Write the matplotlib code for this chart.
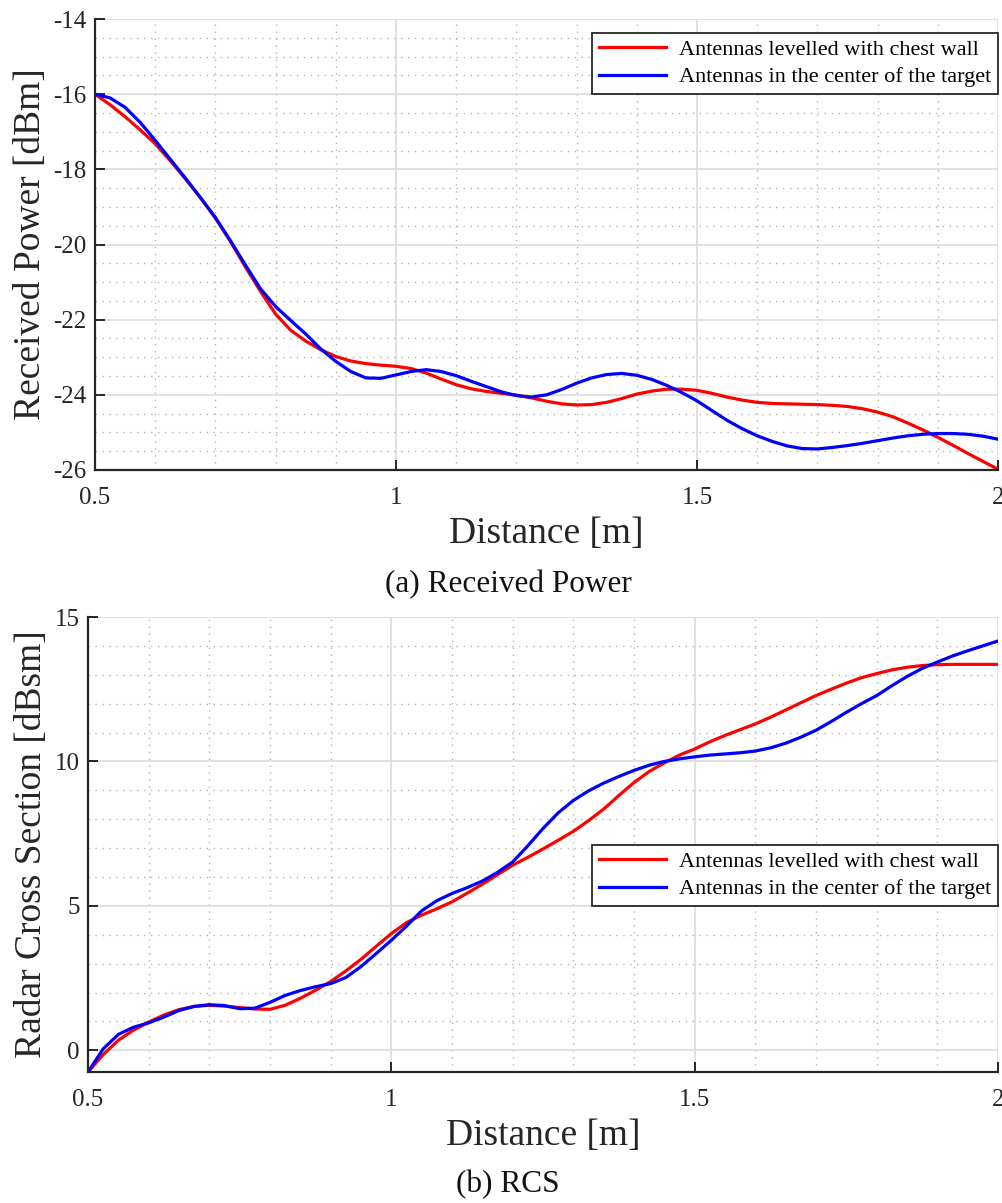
import numpy as np
import matplotlib
matplotlib.use("Agg")
import matplotlib.pyplot as plt
from matplotlib.ticker import MultipleLocator

# ---------------- data ----------------
distance = [0.500, 0.525, 0.550, 0.575, 0.600, 0.625, 0.650, 0.675, 0.700, 0.725,
            0.750, 0.775, 0.800, 0.825, 0.850, 0.875, 0.900, 0.925, 0.950, 0.975,
            1.000, 1.025, 1.050, 1.075, 1.100, 1.125, 1.150, 1.175, 1.200, 1.225,
            1.250, 1.275, 1.300, 1.325, 1.350, 1.375, 1.400, 1.425, 1.450, 1.475,
            1.500, 1.525, 1.550, 1.575, 1.600, 1.625, 1.650, 1.675, 1.700, 1.725,
            1.750, 1.775, 1.800, 1.825, 1.850, 1.875, 1.900, 1.925, 1.950, 1.975,
            2.000]

power_chest = [-16.00, -16.28, -16.60, -16.95, -17.32, -17.77, -18.25, -18.75, -19.30, -19.92,
               -20.60, -21.25, -21.85, -22.28, -22.57, -22.80, -22.98, -23.10, -23.17, -23.21,
               -23.24, -23.30, -23.42, -23.58, -23.73, -23.84, -23.91, -23.96, -24.01, -24.08,
               -24.17, -24.24, -24.27, -24.26, -24.20, -24.10, -23.98, -23.90, -23.85, -23.85,
               -23.88, -23.96, -24.06, -24.14, -24.20, -24.23, -24.24, -24.25, -24.26, -24.28,
               -24.31, -24.37, -24.46, -24.58, -24.75, -24.93, -25.13, -25.34, -25.56, -25.77,
               -25.98]

power_center = [-16.00, -16.10, -16.35, -16.75, -17.23, -17.73, -18.23, -18.75, -19.28, -19.90,
                -20.55, -21.18, -21.65, -22.02, -22.38, -22.78, -23.11, -23.38, -23.55, -23.56,
                -23.47, -23.38, -23.33, -23.38, -23.49, -23.64, -23.78, -23.92, -24.02, -24.06,
                -24.00, -23.86, -23.69, -23.55, -23.46, -23.43, -23.48, -23.59, -23.75, -23.94,
                -24.16, -24.42, -24.68, -24.90, -25.09, -25.24, -25.36, -25.43, -25.44, -25.40,
                -25.35, -25.29, -25.22, -25.15, -25.09, -25.05, -25.03, -25.03, -25.05, -25.10,
                -25.18]

rcs_chest = [-0.75, -0.15, 0.35, 0.70, 0.98, 1.22, 1.41, 1.52, 1.56, 1.53,
             1.48, 1.43, 1.42, 1.56, 1.80, 2.08, 2.38, 2.75, 3.15, 3.60,
             4.04, 4.42, 4.68, 4.90, 5.14, 5.44, 5.75, 6.08, 6.41, 6.68,
             6.97, 7.27, 7.58, 7.95, 8.35, 8.82, 9.27, 9.65, 9.95, 10.22,
             10.43, 10.68, 10.90, 11.10, 11.30, 11.53, 11.78, 12.03, 12.28, 12.50,
             12.71, 12.90, 13.04, 13.17, 13.26, 13.32, 13.35, 13.36, 13.36, 13.36,
             13.36]

rcs_center = [-0.75, 0.05, 0.55, 0.80, 0.95, 1.15, 1.38, 1.52, 1.58, 1.55,
              1.44, 1.46, 1.66, 1.90, 2.07, 2.20, 2.31, 2.52, 2.90, 3.35,
              3.81, 4.30, 4.83, 5.18, 5.43, 5.63, 5.86, 6.16, 6.52, 7.08,
              7.68, 8.22, 8.65, 8.98, 9.25, 9.48, 9.69, 9.87, 10.00, 10.09,
              10.16, 10.22, 10.26, 10.30, 10.36, 10.47, 10.63, 10.84, 11.08, 11.38,
              11.70, 12.00, 12.28, 12.62, 12.94, 13.22, 13.44, 13.65, 13.83, 14.00,
              14.17]

series_labels = ["Antennas levelled with chest wall", "Antennas in the center of the target"]
x_ticks = [0.5, 1, 1.5, 2]
x_ticklabels = ["0.5", "1", "1.5", "2"]
power_ticks = [-26, -24, -22, -20, -18, -16, -14]
rcs_ticks = [0, 5, 10, 15]
captions = ["(a) Received Power", "(b) RCS"]

# ---------------- style ----------------
plt.rcParams['font.family'] = ['Liberation Serif', 'DejaVu Serif']
AX_COLOR = '#262626'

fig = plt.figure(figsize=(10.03, 12.03), dpi=100)


def style_axes(ax, ylim, yticks, yminor):
    ax.set_xlim(0.5, 2.0)
    ax.set_ylim(*ylim)
    ax.set_xticks(x_ticks)
    ax.set_xticklabels(x_ticklabels)
    ax.set_yticks(yticks)
    ax.set_yticklabels([str(t) for t in yticks])
    ax.xaxis.set_minor_locator(MultipleLocator(0.1))
    ax.yaxis.set_minor_locator(MultipleLocator(yminor))
    for s in ['top', 'right']:
        ax.spines[s].set_visible(False)
    for s in ['left', 'bottom']:
        ax.spines[s].set_color(AX_COLOR)
        ax.spines[s].set_linewidth(1.6)
    ax.tick_params(which='major', direction='in', length=7, width=1.4,
                   color=AX_COLOR, labelcolor=AX_COLOR, labelsize=18)
    ax.tick_params(axis='x', which='major', pad=12)
    ax.tick_params(axis='y', which='major', pad=6)
    ax.tick_params(which='minor', length=0)
    ax.grid(which='major', color='#dcdcdc', linewidth=1.2, linestyle='-')
    ax.grid(which='minor', color='#b4b4b4', linewidth=1.0, linestyle=(0, (1, 4)))
    ax.set_axisbelow(True)


def add_legend(ax, anchor_y):
    leg = ax.legend(loc='upper right', bbox_to_anchor=(1.0, anchor_y), fontsize=16,
                    frameon=True, fancybox=False, framealpha=1, edgecolor='#262626',
                    handlelength=3.0, borderpad=0.3, labelspacing=0.3,
                    handletextpad=0.6, borderaxespad=0)
    leg.get_frame().set_linewidth(1.3)
    return leg


# top panel
ax1 = fig.add_axes([95 / 1003, 1 - 470 / 1203, 903 / 1003, 451 / 1203])
ax1.plot(distance, power_chest, color='#ff0000', lw=2.3, label=series_labels[0])
ax1.plot(distance, power_center, color='#0000ff', lw=2.3, label=series_labels[1])
style_axes(ax1, (-26, -14), power_ticks, 0.5)
ax1.set_xlabel('Distance [m]', fontsize=27, color=AX_COLOR, labelpad=6)
ax1.set_ylabel('Received Power [dBm]', fontsize=27, color=AX_COLOR, labelpad=4)
add_legend(ax1, 1 - (33 - 19) / 451)

# bottom panel
ax2 = fig.add_axes([88 / 1003, 1 - 1072 / 1203, 910 / 1003, 455 / 1203])
ax2.plot(distance, rcs_chest, color='#ff0000', lw=2.3, label=series_labels[0])
ax2.plot(distance, rcs_center, color='#0000ff', lw=2.3, label=series_labels[1])
style_axes(ax2, (-0.75, 15), rcs_ticks, 1)
ax2.set_xlabel('Distance [m]', fontsize=27, color=AX_COLOR, labelpad=6)
ax2.set_ylabel('Radar Cross Section [dBsm]', fontsize=27, color=AX_COLOR, labelpad=4)
add_legend(ax2, 1 - (845 - 617) / 455)

fig.text(508 / 1003, 1 - 585 / 1203, captions[0], ha='center', va='center', fontsize=22.5, color='#111111')
fig.text(508 / 1003, 1 - 1185 / 1203, captions[1], ha='center', va='center', fontsize=22.5, color='#111111')

fig.savefig('out.png', dpi=100)
